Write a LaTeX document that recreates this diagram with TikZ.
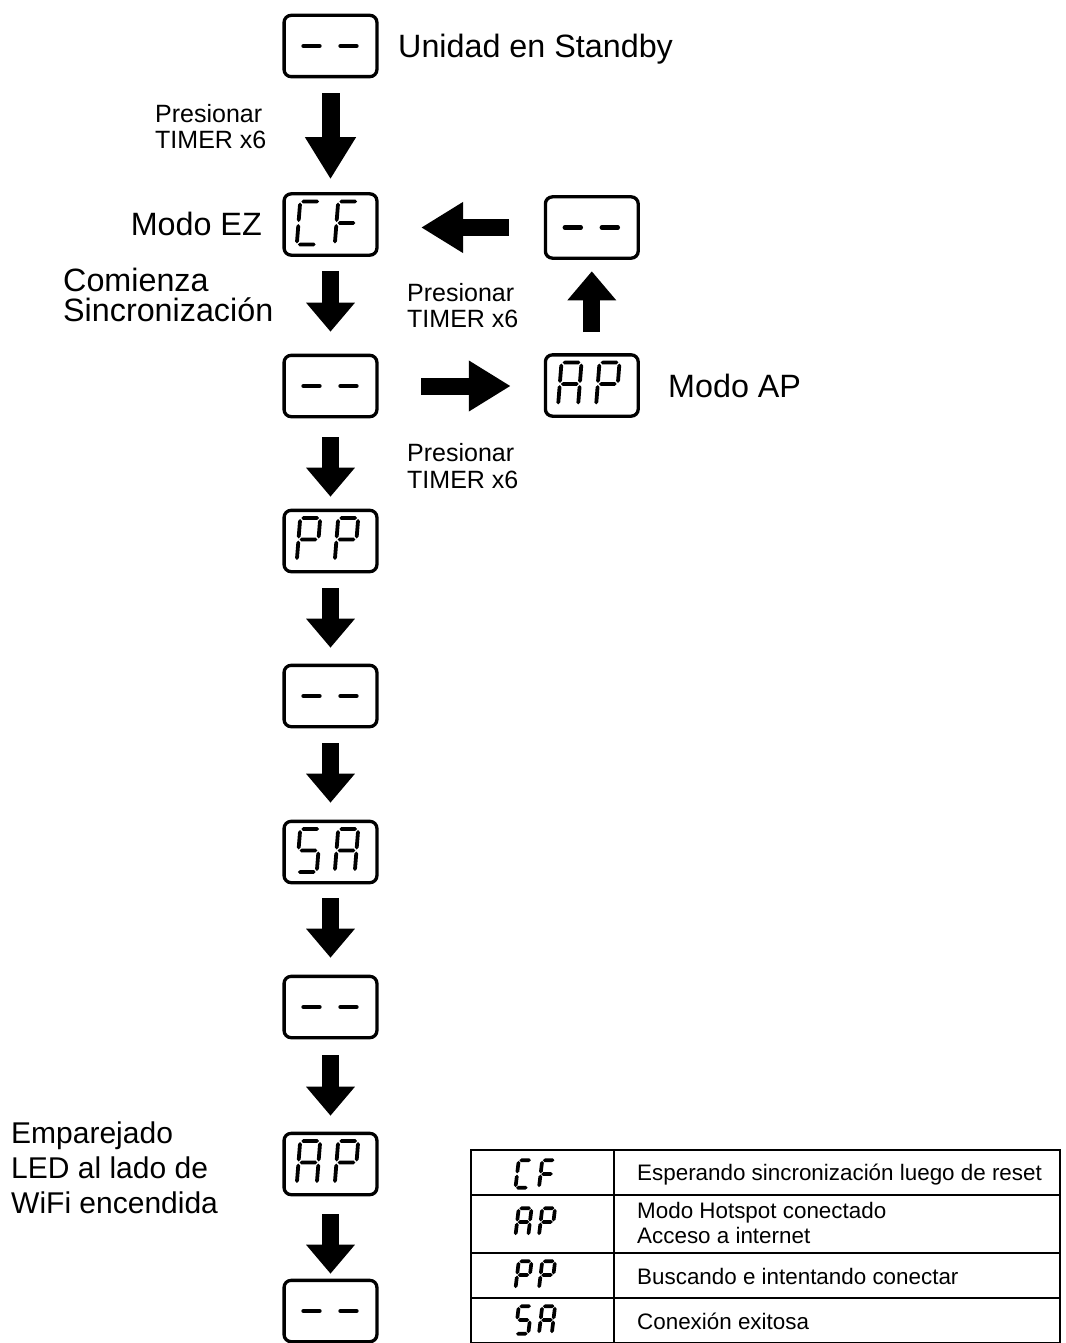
\documentclass[tikz,border=0pt]{standalone}
\usepackage{fontspec}
\setmainfont{Liberation Sans}
\usetikzlibrary{arrows.meta,calc}

\newcommand\segW{10}
\newcommand\segH{21.5}
\newcommand\segG{1.1}
\newcommand\segT{1.9}
\newcommand\HSeg[1]{\fill ({-\segW+\segG},{#1}) -- ({-\segW+\segG+\segT},{#1+\segT}) -- ({\segW-\segG-\segT},{#1+\segT}) -- ({\segW-\segG},{#1}) -- ({\segW-\segG-\segT},{#1-\segT}) -- ({-\segW+\segG+\segT},{#1-\segT}) -- cycle;}
\newcommand\VSeg[3]{\fill ({#1},{#2}) -- ({#1+\segT},{#2+\segT}) -- ({#1+\segT},{#3-\segT}) -- ({#1},{#3}) -- ({#1-\segT},{#3-\segT}) -- ({#1-\segT},{#2+\segT}) -- cycle;}
\newcommand\SegA{\HSeg{-\segH}}
\newcommand\SegMid{\HSeg{0}}
\newcommand\SegD{\HSeg{\segH}}
\newcommand\SegF{\VSeg{-\segW}{-\segH+\segG}{-\segG}}
\newcommand\SegE{\VSeg{-\segW}{\segG}{\segH-\segG}}
\newcommand\SegB{\VSeg{\segW}{-\segH+\segG}{-\segG}}
\newcommand\SegC{\VSeg{\segW}{\segG}{\segH-\segG}}
\newcommand\GlyC{\SegA\SegD\SegE\SegF}
\newcommand\GlyF{\SegA\SegE\SegF\SegMid}
\newcommand\GlyA{\SegA\SegB\SegC\SegE\SegF\SegMid}
\newcommand\GlyP{\SegA\SegB\SegE\SegF\SegMid}
\newcommand\GlyS{\SegA\SegC\SegD\SegF\SegMid}
% pair of digits inside a display node
\newcommand\Pair[3]{%
  \begin{scope}[shift={($(#1.center)+(-22,-1.5)$)},xslant=0.08]#2\end{scope}%
  \begin{scope}[shift={($(#1.center)+(16,-1.5)$)},xslant=0.08]#3\end{scope}}
% two dashes inside a display node
\newcommand\Dashes[1]{%
  \draw[dashseg] ($(#1.center)+(-27,0)$) -- ++(16,0);
  \draw[dashseg] ($(#1.center)+(10,0)$) -- ++(16,0);}
% table glyph
\newcommand\TGly[3]{%
  \begin{scope}[shift={(#1,#2)},xslant=0.12,scale=0.64]
  \renewcommand\segT{2.9}\renewcommand\segG{1.0}\renewcommand\segW{10}#3\end{scope}}

\begin{document}
\begin{tikzpicture}[x=1pt,y=-1pt,
  dbox/.style={draw, line width=3.3pt, rounded corners=7pt, minimum width=92.8pt, minimum height=61.3pt, inner sep=0pt},
  dashseg/.style={line width=4.4pt, line cap=round},
  fat/.style={line width=17pt, -{Triangle[width=47pt,length=29pt]}},
  fatlong/.style={line width=17pt, -{Triangle[width=48pt,length=42pt]}},
  lbl/.style={font=\fontsize{32.3pt}{32pt}\selectfont, inner sep=0pt},
  sml/.style={font=\fontsize{25pt}{27pt}\selectfont, inner sep=0pt, anchor=base west},
  emp/.style={font=\fontsize{30pt}{35pt}\selectfont, inner sep=0pt, anchor=base west},
  tbl/.style={font=\fontsize{22.4pt}{25pt}\selectfont, inner sep=0pt, anchor=base west},
  tline/.style={line width=1.6pt}]
\useasboundingbox (0,0) rectangle (1065,1343);

% display boxes, main column
\node[dbox] (b1) at (330.5,46) {};
\node[dbox] (b2) at (330.5,224.5) {};
\node[dbox] (b3) at (330.5,386) {};
\node[dbox] (b4) at (330.5,541) {};
\node[dbox] (b5) at (330.5,696) {};
\node[dbox] (b6) at (330.5,852) {};
\node[dbox] (b7) at (330.5,1007) {};
\node[dbox] (b8) at (330.5,1164) {};
\node[dbox] (b9) at (330.5,1311) {};
% right column
\node[dbox] (r1) at (591.8,227.5) {};
\node[dbox] (r2) at (591.8,385.5) {};

% display contents
\Dashes{b1}
\Pair{b2}{\GlyC}{\GlyF}
\Dashes{b3}
\Pair{b4}{\GlyP}{\GlyP}
\Dashes{b5}
\Pair{b6}{\GlyS}{\GlyA}
\Dashes{b7}
\Pair{b8}{\GlyA}{\GlyP}
\Dashes{b9}
\Dashes{r1}
\Pair{r2}{\GlyA}{\GlyP}

% arrows
\draw[fatlong, line width=18pt, shorten <=15pt, shorten >=13pt] (b1.south) -- (b2.north);
\draw[fat, shorten <=14pt, shorten >=22pt] (b2.south) -- (b3.north);
\draw[fat, shorten <=19pt, shorten >=12pt] (b3.south) -- (b4.north);
\draw[fat, shorten <=15pt, shorten >=16pt] (b4.south) -- (b5.north);
\draw[fat, shorten <=15pt, shorten >=17pt] (b5.south) -- (b6.north);
\draw[fat, shorten <=14pt, shorten >=17pt] (b6.south) -- (b7.north);
\draw[fat, shorten <=16pt, shorten >=16pt] (b7.south) -- (b8.north);
\draw[fat, shorten <=18pt, shorten >=5pt] (b8.south) -- (b9.north);
\draw[fatlong, shorten <=35pt, shorten >=42.5pt] (r1.west) -- (r1.west -| b2.east);
\draw[fatlong, shorten <=42.5pt, shorten >=33pt] (b3.east) -- (b3.east -| r2.west);
\draw[fat, shorten <=21pt, shorten >=11.5pt] (r2.north) -- (r1.south);

% labels
\node[lbl, anchor=base west] (tstandby) at (398,58) {Unidad en Standby};
\node[lbl, anchor=base east] (tez) at (262,235.5) {Modo EZ};
\node[lbl, anchor=base west] (tcom1) at (63,291) {Comienza};
\node[lbl, anchor=base west] (tcom2) at (63,321) {Sincronización};
\node[lbl, anchor=base west] (tap) at (668,397.5) {Modo AP};
\node[sml] (p1a) at (155,123) {Presionar};
\node[sml] (p1b) at (155,149) {TIMER x6};
\node[sml] (p2a) at (407,301) {Presionar};
\node[sml] (p2b) at (407,327) {TIMER x6};
\node[sml] (p3a) at (407,461) {Presionar};
\node[sml] (p3b) at (407,488) {TIMER x6};
\node[emp] (e1) at (11,1143) {Emparejado};
\node[emp] (e2) at (11,1178) {LED al lado de};
\node[emp] (e3) at (11,1213) {WiFi encendida};

% legend table
\draw[tline] (471,1343.5) -- (471,1150) -- (1060,1150) -- (1060,1343.5);
\draw[tline] (614,1150) -- (614,1343.5);
\draw[tline] (471,1195) -- (1060,1195);
\draw[tline] (471,1253) -- (1060,1253);
\draw[tline] (471,1298) -- (1060,1298);
\draw[tline] (471,1342.5) -- (1060,1342.5);
\TGly{523.5}{1174}{\GlyC}\TGly{547}{1174}{\GlyF}
\TGly{523.5}{1222}{\GlyA}\TGly{547}{1222}{\GlyP}
\TGly{523.5}{1275}{\GlyP}\TGly{547}{1275}{\GlyP}
\TGly{523.5}{1320}{\GlyS}\TGly{547}{1320}{\GlyA}
\node[tbl] (l1) at (637,1180) {Esperando sincronización luego de reset};
\node[tbl] (l2a) at (637,1218) {Modo Hotspot conectado};
\node[tbl] (l2b) at (637,1243) {Acceso a internet};
\node[tbl] (l3) at (637,1284) {Buscando e intentando conectar};
\node[tbl] (l4) at (637,1329) {Conexión exitosa};
\end{tikzpicture}
\end{document}
